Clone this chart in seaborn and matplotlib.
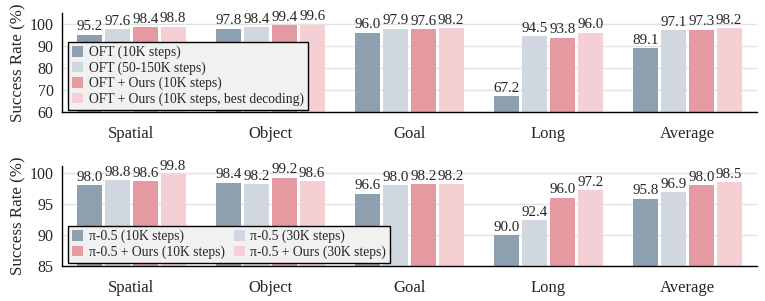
import matplotlib
matplotlib.use("Agg")
import matplotlib.pyplot as plt
import seaborn as sns
import pandas as pd

categories = ["Spatial", "Object", "Goal", "Long", "Average"]

oft_labels = ["OFT (10K steps)", "OFT (50-150K steps)", "OFT + Ours (10K steps)",
              "OFT + Ours (10K steps, best decoding)"]
oft_10k = [95.2, 97.8, 96.0, 67.2, 89.1]
oft_long = [97.6, 98.4, 97.9, 94.5, 97.1]
oft_ours = [98.4, 99.4, 97.6, 93.8, 97.3]
oft_ours_best = [98.8, 99.6, 98.2, 96.0, 98.2]

pi_labels = ["π-0.5 (10K steps)", "π-0.5 (30K steps)", "π-0.5 + Ours (10K steps)",
             "π-0.5 + Ours (30K steps)"]
pi_10k = [98.0, 98.4, 96.6, 90.0, 95.8]
pi_30k = [98.8, 98.2, 98.0, 92.4, 96.9]
pi_ours_10k = [98.6, 99.2, 98.2, 96.0, 98.0]
pi_ours_30k = [99.8, 98.6, 98.2, 97.2, 98.5]

colors = ["#8E9FB0", "#D0D7DF", "#E59AA2", "#F4D0D5"]

sns.set_style("white")
plt.rcParams["font.family"] = ["Liberation Serif", "DejaVu Serif"]


def to_df(labels, series):
    rows = []
    for lab, vals in zip(labels, series):
        for c, v in zip(categories, vals):
            rows.append({"cat": c, "method": lab, "val": v})
    return pd.DataFrame(rows)


fig = plt.figure(figsize=(7.65, 3.01), dpi=100)
ax1 = fig.add_axes([0.081, 0.628, 0.9085, 0.329])
ax2 = fig.add_axes([0.081, 0.116, 0.9085, 0.333])


def draw(ax, df, labels, ylim, yticks, ncol, order, legend_anchor, colsp):
    ax.set_axisbelow(True)
    ax.yaxis.grid(True, color="#E2E2E2", linewidth=1.0)
    sns.barplot(data=df, x="cat", y="val", hue="method", hue_order=labels,
                palette=colors, saturation=1, gap=0.1, width=0.8, linewidth=0,
                ax=ax, errorbar=None)
    for cont in ax.containers:
        ax.bar_label(cont, fmt="%.1f", padding=1, fontsize=10.8, clip_on=False)
    ax.set_ylim(*ylim)
    ax.set_xlim(-0.5, 4.5)
    ax.set_yticks(yticks)
    ax.set_xlabel("")
    ax.set_ylabel("Success Rate (%)", fontsize=12.2, labelpad=2)
    for s in ["top", "right"]:
        ax.spines[s].set_visible(False)
    for s in ["left", "bottom"]:
        ax.spines[s].set_color("black")
        ax.spines[s].set_linewidth(1.0)
    ax.tick_params(axis="y", which="major", direction="out", length=4,
                   width=1, color="black", labelsize=11.5, pad=2)
    ax.tick_params(axis="x", which="major", direction="out", length=4,
                   width=1, color="black", labelsize=12, pad=6)
    ax.set_xticks([4.5], minor=True)
    ax.tick_params(axis="x", which="minor", length=4, width=1, color="black")
    handles, labs = ax.get_legend_handles_labels()
    handles = [handles[i] for i in order]
    labs = [labs[i] for i in order]
    leg = ax.legend(handles, labs, loc="lower left", bbox_to_anchor=legend_anchor,
                    ncol=ncol, fontsize=9.8, frameon=True, fancybox=False,
                    edgecolor="black", facecolor="#F1F1F1", framealpha=1,
                    handlelength=0.8, handleheight=0.8, handletextpad=0.4,
                    borderpad=0.3, labelspacing=0.15, columnspacing=colsp,
                    borderaxespad=0)
    leg.get_frame().set_linewidth(1.0)


draw(ax1, to_df(oft_labels, [oft_10k, oft_long, oft_ours, oft_ours_best]),
     oft_labels, (60, 105), [60, 70, 80, 90, 100], 1, [0, 1, 2, 3],
     (0.009, 0.02), 2.0)
draw(ax2, to_df(pi_labels, [pi_10k, pi_30k, pi_ours_10k, pi_ours_30k]),
     pi_labels, (85, 101.1), [85, 90, 95, 100], 2, [0, 2, 1, 3],
     (0.009, 0.03), 0.7)

fig.savefig("out.png", dpi=100)
